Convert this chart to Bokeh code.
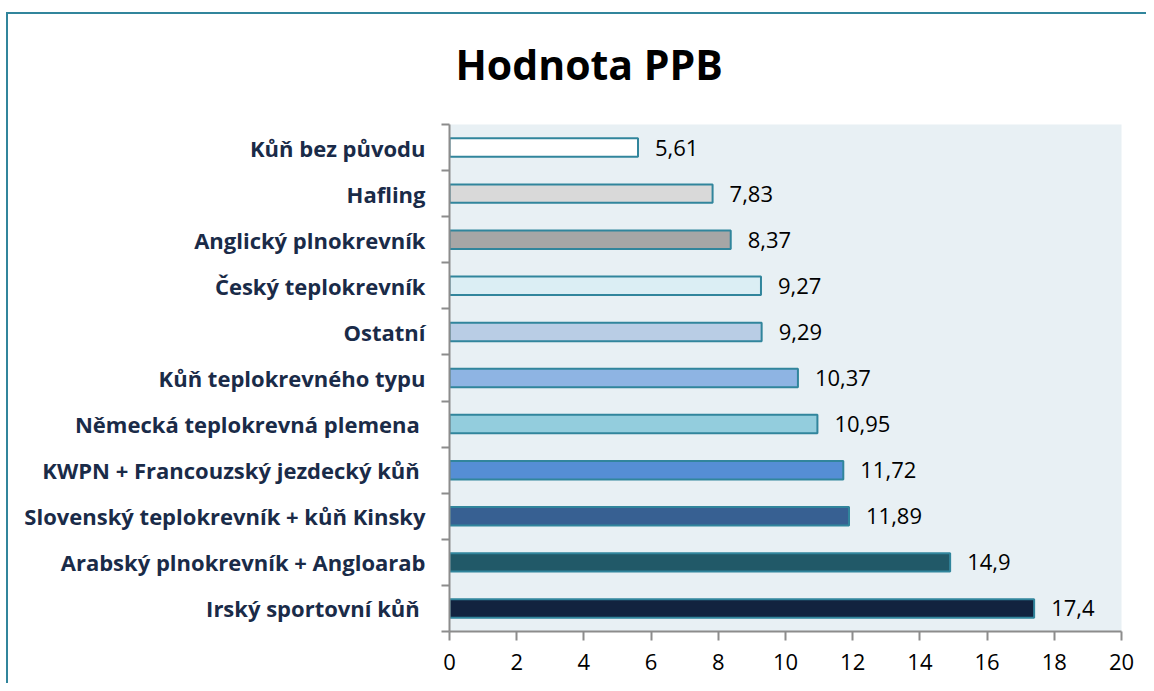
from bokeh.plotting import figure
from bokeh.models import Range1d, FixedTicker, Title, ColumnDataSource
from bokeh.core.properties import value
from bokeh.embed import file_html
from bokeh.resources import INLINE

# Data (bottom to top)
categories = [
    "Irský sportovní kůň ",
    "Arabský plnokrevník + Angloarab",
    "Slovenský teplokrevník + kůň Kinsky",
    "KWPN + Francouzský jezdecký kůň ",
    "Německá teplokrevná plemena ",
    "Kůň teplokrevného typu",
    "Ostatní",
    "Český teplokrevník",
    "Anglický plnokrevník",
    "Hafling",
    "Kůň bez původu",
]
values = [17.4, 14.9, 11.89, 11.72, 10.95, 10.37, 9.29, 9.27, 8.37, 7.83, 5.61]
bar_colors = ["#12233F", "#215968", "#376092", "#558ED5", "#93CDDD", "#8EB4E3",
              "#B9CDE5", "#DBEEF4", "#A6A6A6", "#D9D9D9", "#FFFFFF"]
x_ticks = [0, 2, 4, 6, 8, 10, 12, 14, 16, 18, 20]
title_text = "Hodnota PPB"

FONT = "Open Sans"
LABEL_COLOR = "#1A2B48"
AXIS_COLOR = "#8C8C8C"
TEAL = "#31859C"

ypos = [i + 0.5 for i in range(len(categories))]
src = ColumnDataSource(dict(
    y=ypos, v=values, c=bar_colors,
    lab=[str(v).replace(".", ",") for v in values],
))

p = figure(width=1146, height=683,
           x_range=Range1d(0, 20), y_range=Range1d(0, len(categories)),
           min_border_left=449, min_border_right=25,
           min_border_top=124, min_border_bottom=52,
           output_backend="svg", toolbar_location=None)

p.background_fill_color = "#E8F0F4"
p.border_fill_color = None
p.outline_line_color = None
p.xgrid.visible = False
p.ygrid.visible = False
p.styles = {
    "background": (f"linear-gradient({TEAL}, {TEAL}) 6px 12px / 2px 100% no-repeat, "
                   f"linear-gradient({TEAL}, {TEAL}) 6px 12px / 100% 2px no-repeat, white"),
}

p.title = Title(text=title_text, align="left", offset=6, standoff=66,
                text_font=FONT, text_font_style="bold", text_font_size="41px",
                text_color="black")

p.hbar(y="y", right="v", left=0, height=0.4, source=src,
       fill_color="c", line_color=TEAL, line_width=2)

p.text(x="v", y="y", text="lab", source=src, x_offset=17,
       text_baseline="middle", text_align="left",
       text_font=value(FONT), text_font_size="22px", text_color="black")

# x axis
xa = p.xaxis[0]
xa.ticker = FixedTicker(ticks=x_ticks)
xa.axis_line_color = AXIS_COLOR
xa.axis_line_width = 2
xa.major_tick_line_color = AXIS_COLOR
xa.major_tick_line_width = 2
xa.major_tick_in = 0
xa.major_tick_out = 9
xa.minor_tick_line_color = None
xa.major_label_text_font = FONT
xa.major_label_text_font_size = "22px"
xa.major_label_text_color = "black"
xa.major_label_standoff = 13

# y axis
ya = p.yaxis[0]
ya.ticker = FixedTicker(ticks=ypos, minor_ticks=list(range(len(categories) + 1)))
ya.major_label_overrides = {y: c for y, c in zip(ypos, categories)}
ya.axis_line_color = AXIS_COLOR
ya.axis_line_width = 2
ya.major_tick_line_color = None
ya.major_tick_in = 0
ya.major_tick_out = 0
ya.minor_tick_line_color = AXIS_COLOR
ya.minor_tick_line_width = 2
ya.minor_tick_in = 0
ya.minor_tick_out = 8
ya.major_label_text_font = FONT
ya.major_label_text_font_style = "bold"
ya.major_label_text_font_size = "22px"
ya.major_label_text_color = LABEL_COLOR
ya.major_label_standoff = 16

open("out.html", "w").write(file_html(p, INLINE))
